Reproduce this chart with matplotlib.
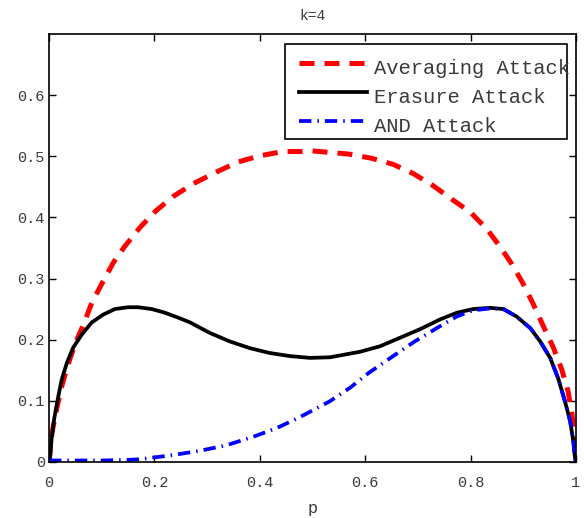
import matplotlib
matplotlib.use("Agg")
import matplotlib.pyplot as plt
from matplotlib.patches import Rectangle

# ---- data ----
p_avg = [0.0, 0.002, 0.006, 0.015, 0.024, 0.035, 0.049, 0.067, 0.081, 0.100, 0.122,
         0.144, 0.173, 0.203, 0.235, 0.273, 0.319, 0.359, 0.400, 0.444, 0.476, 0.500,
         0.527, 0.567, 0.612, 0.653, 0.691, 0.729, 0.764, 0.799, 0.831, 0.856, 0.878,
         0.900, 0.919, 0.938, 0.957, 0.973, 0.985, 0.992, 0.997, 0.999, 1.0]
v_avg = [0.0, 0.016, 0.049, 0.088, 0.123, 0.156, 0.192, 0.228, 0.260, 0.291, 0.326,
         0.353, 0.384, 0.411, 0.434, 0.455, 0.475, 0.491, 0.501, 0.508, 0.508, 0.509,
         0.507, 0.504, 0.497, 0.487, 0.472, 0.452, 0.430, 0.409, 0.381, 0.352, 0.324,
         0.291, 0.258, 0.222, 0.187, 0.151, 0.115, 0.080, 0.044, 0.011, 0.0]

p_era = [0.0, 0.002, 0.005, 0.010, 0.017, 0.024, 0.034, 0.046, 0.062, 0.081, 0.103,
         0.125, 0.150, 0.169, 0.195, 0.220, 0.248, 0.268, 0.305, 0.343, 0.381, 0.419,
         0.457, 0.495, 0.533, 0.552, 0.590, 0.628, 0.666, 0.704, 0.742, 0.774, 0.805,
         0.837, 0.862, 0.887, 0.913, 0.932, 0.951, 0.966, 0.979, 0.989, 0.995, 0.998, 1.0]
v_era = [0.0, 0.006, 0.038, 0.071, 0.104, 0.134, 0.162, 0.187, 0.208, 0.228, 0.241,
         0.250, 0.253, 0.253, 0.250, 0.244, 0.235, 0.228, 0.211, 0.197, 0.186, 0.178,
         0.173, 0.170, 0.171, 0.174, 0.180, 0.189, 0.203, 0.217, 0.233, 0.244, 0.250,
         0.252, 0.250, 0.238, 0.219, 0.197, 0.170, 0.137, 0.099, 0.066, 0.033, 0.006, 0.0]

p_and = [0.0, 0.05, 0.10, 0.15, 0.173, 0.236, 0.287, 0.337, 0.388, 0.432, 0.476,
         0.533, 0.571, 0.606, 0.653, 0.694, 0.742, 0.774, 0.805, 0.837, 0.862, 0.887,
         0.913, 0.932, 0.951, 0.966, 0.979, 0.989, 0.995, 0.998, 1.0]
v_and = [0.002, 0.002, 0.002, 0.003, 0.004, 0.011, 0.018, 0.027, 0.041, 0.055, 0.073,
         0.099, 0.121, 0.145, 0.173, 0.197, 0.222, 0.238, 0.248, 0.251, 0.250, 0.238,
         0.219, 0.197, 0.170, 0.137, 0.099, 0.066, 0.033, 0.006, 0.0]

labels = ["Averaging Attack", "Erasure Attack", "AND Attack"]
xticks = [0, 0.2, 0.4, 0.6, 0.8, 1]
xticklabels = ["0", "0.2", "0.4", "0.6", "0.8", "1"]
yticks = [0, 0.1, 0.2, 0.3, 0.4, 0.5, 0.6]
yticklabels = ["0", "0.1", "0.2", "0.3", "0.4", "0.5", "0.6"]
title = "k=4"
xlabel = "p"

# ---- figure ----
W, H = 584, 518
fig = plt.figure(figsize=(W / 100, H / 100), dpi=100)
L, R, T, B = 49, 576, 34.3, 461.7
ax = fig.add_axes([L / W, 1 - B / H, (R - L) / W, (B - T) / H])

font = "Liberation Mono"
tcol = "#3a3a3a"

red_style = dict(color="#ff0000", lw=3.6, linestyle=(0, (3.0, 2.0)), dash_capstyle="butt")
blk_style = dict(color="black", lw=2.7, linestyle="-")
blu_style = dict(color="#0000ff", lw=2.7, linestyle=(0, (3.3, 1.6, 0.4, 1.6)), dash_capstyle="butt")

ax.plot(p_avg, v_avg, **red_style)
ax.plot(p_era, v_era, **blk_style)
ax.plot(p_and, v_and, **blu_style)

ax.set_xlim(0, 1)
ax.set_ylim(0, 0.7)
ax.set_xticks(xticks)
ax.set_xticklabels(xticklabels, fontfamily=font, fontsize=11, color=tcol)
ax.set_yticks(yticks)
ax.set_yticklabels(yticklabels, fontfamily=font, fontsize=11, color=tcol)
ax.tick_params(direction="in", length=5, width=1, top=True, right=True)
ax.tick_params(axis="x", pad=10.5)
ax.tick_params(axis="y", pad=3)
for s in ax.spines.values():
    s.set_linewidth(1.2)

ax.set_title(title, fontfamily=font, fontsize=10.5, color=tcol, pad=10)
ax.set_xlabel(xlabel, fontfamily=font, fontsize=12, color=tcol, labelpad=8)

# ---- legend drawn as in reference ----
def ax_x(px):
    return (px - L) / (R - L)

def ax_y(py):
    return (B - py) / (B - T)

bx0, bx1, by0, by1 = ax_x(285), ax_x(566.7), ax_y(139), ax_y(44)
ax.add_patch(Rectangle((bx0, by0), bx1 - bx0, by1 - by0, transform=ax.transAxes,
                       facecolor="white", edgecolor="black", lw=1.2, zorder=5))
styles = [red_style, blk_style, blu_style]
rows = [62.7, 91.7, 120.7]
for lab, st, ry in zip(labels, styles, rows):
    ax.plot([ax_x(299), ax_x(367)], [ax_y(ry), ax_y(ry)], transform=ax.transAxes,
            clip_on=False, zorder=6, **st)
    ax.text(ax_x(374), ax_y(ry + 11), lab, transform=ax.transAxes, fontfamily=font,
            fontsize=14.8, color=tcol, va="baseline", ha="left", zorder=7)

fig.savefig("out.png", dpi=100)
